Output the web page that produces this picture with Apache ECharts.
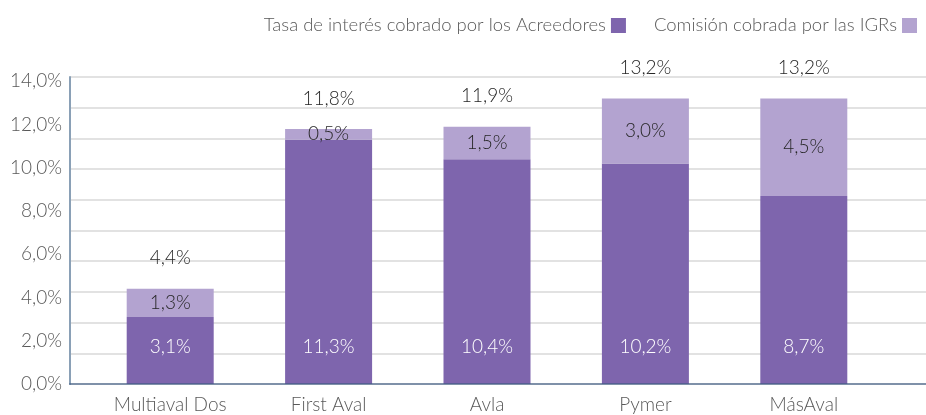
<!DOCTYPE html>
<html>
<head>
<meta charset="utf-8">
<script src="https://cdn.jsdelivr.net/npm/echarts@6/dist/echarts.min.js"></script>
<style>
    html, body { margin: 0; padding: 0; background: #fff; }
    #chart { width: 926px; height: 415px; }
</style>
</head>
<body>
<div id="chart"></div>
<script type="text/javascript">
    var categories = ['Multiaval Dos', 'First Aval', 'Avla', 'Pymer', 'MásAval'];
    var tasaAcreedores = [3.1, 11.3, 10.4, 10.2, 8.7];
    var comisionIGR = [1.3, 0.5, 1.5, 3.0, 4.5];
    var totales = [4.4, 11.8, 11.9, 13.2, 13.2];
    var yTicks = [0, 2, 4, 6, 8, 10, 12, 14];

    var FONT = 'Lato, "DejaVu Sans Condensed", sans-serif';
    var FW = 300;

    function pct(v) {
        return v.toFixed(1).replace('.', ',') + '%';
    }

    var chart = echarts.init(document.getElementById('chart'));

    var option = {
        animation: false,
        textStyle: { fontFamily: FONT, fontWeight: FW },
        legend: {
            top: 11,
            right: 4,
            align: 'right',
            icon: 'rect',
            itemWidth: 15,
            itemHeight: 15,
            itemGap: 28,
            textStyle: { fontFamily: FONT, fontWeight: FW, fontSize: 18.5, color: '#595959', padding: [0, 0, 0, 0] },
            data: ['Tasa de interés cobrado por los Acreedores', 'Comisión cobrada por las IGRs']
        },
        grid: [
            // grid 0: axis line, y labels and gridlines
            { left: 70, right: 0, top: 77, bottom: 31 },
            // grid 1: bars
            { left: 91, right: 43, top: 77, bottom: 31 }
        ],
        xAxis: [
            {
                gridIndex: 0, type: 'value', min: 0, max: 1, z: 5,
                axisLine: { show: true, lineStyle: { color: 'rgba(60,90,130,0.6)', width: 2 } },
                axisTick: { show: false }, axisLabel: { show: false }, splitLine: { show: false }
            },
            {
                gridIndex: 1, type: 'category', data: categories,
                axisLine: { show: false }, axisTick: { show: false },
                axisLabel: { fontFamily: FONT, fontWeight: FW, fontSize: 19, color: '#595959', margin: 11 }
            }
        ],
        yAxis: [
            {
                gridIndex: 0, type: 'value', min: 0, max: 14.2, interval: 2,
                axisLine: { show: true, lineStyle: { color: '#8aa0b6', width: 2 } },
                axisTick: { show: false },
                axisLabel: {
                    showMaxLabel: false, margin: 8,
                    fontFamily: FONT, fontWeight: FW, fontSize: 19, color: '#595959',
                    formatter: function (v) { return yTicks.indexOf(v) >= 0 ? pct(v) : ''; }
                },
                splitLine: { show: false }
            },
            {
                gridIndex: 0, type: 'value', min: 0, max: 10, interval: 1, position: 'left',
                axisLine: { show: false }, axisTick: { show: false }, axisLabel: { show: false },
                splitLine: { show: true, lineStyle: { color: '#d9d9d9', width: 1.5 } }
            },
            {
                gridIndex: 1, type: 'value', min: 0, max: 14.2, show: false
            }
        ],
        series: [
            {
                name: 'Tasa de interés cobrado por los Acreedores',
                type: 'bar', stack: 'tot', xAxisIndex: 1, yAxisIndex: 2,
                barWidth: 87,
                itemStyle: { color: '#7e65ad' },
                label: {
                    show: true, position: 'insideBottom', distance: 28,
                    fontFamily: FONT, fontWeight: FW, fontSize: 19, color: '#ffffff',
                    formatter: function (p) { return pct(p.value); }
                },
                data: tasaAcreedores
            },
            {
                name: 'Comisión cobrada por las IGRs',
                type: 'bar', stack: 'tot', xAxisIndex: 1, yAxisIndex: 2,
                barWidth: 87,
                itemStyle: { color: '#b3a3d0' },
                label: {
                    show: true, position: 'inside',
                    fontFamily: FONT, fontWeight: FW, fontSize: 19, color: '#262626',
                    formatter: function (p) { return pct(p.value); }
                },
                data: comisionIGR
            },
            {
                name: 'total',
                type: 'bar', xAxisIndex: 1, yAxisIndex: 2,
                barWidth: 87, barGap: '-100%', silent: true, z: 1,
                itemStyle: { color: 'rgba(0,0,0,0)' },
                label: {
                    show: true, position: 'top', distance: 21,
                    fontFamily: FONT, fontWeight: FW, fontSize: 19, color: '#262626',
                    formatter: function (p) { return pct(p.value); }
                },
                data: totales
            }
        ]
    };

    chart.setOption(option);
</script>
</body>
</html>
